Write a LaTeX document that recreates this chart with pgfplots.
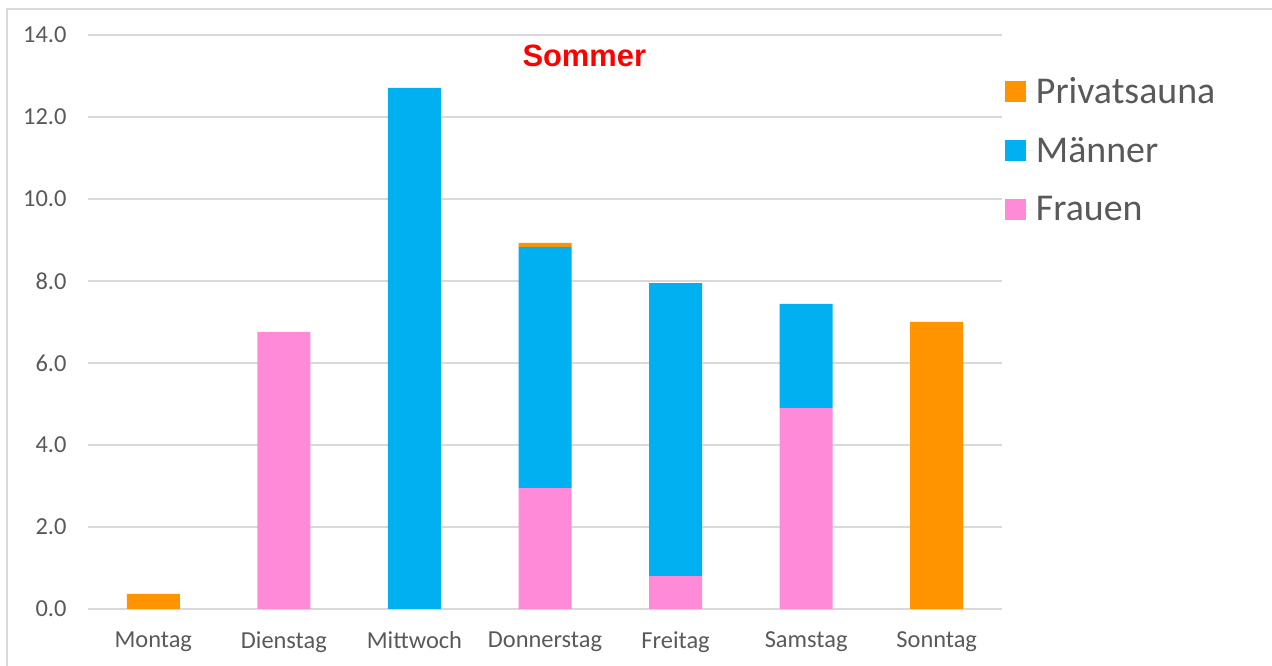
\documentclass[border=0pt]{standalone}
\usepackage{pgfplots}
\pgfplotsset{compat=1.18}
\usepackage{fontspec}
\setmainfont{Carlito}
\newfontfamily\titlefont{Liberation Sans}
\definecolor{cOrange}{HTML}{FF9300}
\definecolor{cBlue}{HTML}{00B0F0}
\definecolor{cPink}{HTML}{FF8AD8}
\definecolor{cGrid}{HTML}{D9D9D9}
\definecolor{cText}{HTML}{595959}
\begin{document}
\begin{tikzpicture}[x=1bp,y=1bp]
\path[use as bounding box] (-88,-57) rectangle (1184,609);
\draw[cGrid, line width=1.2bp] (-81,-57) -- (-81,600) -- (1184,600);
\begin{axis}[
  at={(0,0)}, anchor=south west,
  scale only axis, width=914bp, height=574bp,
  ybar stacked, bar width=53bp,
  xmin=-0.5, xmax=6.5, ymin=0, ymax=14,
  xtick={0,...,6},
  xticklabels={Montag,Dienstag,Mittwoch,Donnerstag,Freitag,Samstag,Sonntag},
  ytick={0,2,...,14},
  yticklabel={\pgfmathprintnumber[fixed,fixed zerofill,precision=1]{\tick}},
  /pgf/number format/assume math mode=true,
  ymajorgrids, major grid style={cGrid, line width=1.2bp},
  axis line style={draw=none},
  major tick length=0pt,
  tick label style={font=\fontsize{24.5}{26}\selectfont, text=cText},
  xticklabel style={yshift=-19bp},
  yticklabel style={xshift=-18bp},
  legend style={at={(1.003,0.930)}, anchor=north west, draw=none, fill=none,
    font=\fontsize{38}{40}\selectfont, text=cText, row sep=28.5bp,
    inner sep=0pt,
    /tikz/every even column/.append style={column sep=0bp}},
  legend cell align=left,
  reverse legend,
  legend image code/.code={\fill[#1] (0bp,-10.5bp) rectangle (21bp,10.5bp);
    \path (0bp,0bp) -- (29bp,0bp);},
  clip=false,
]
\addplot[fill=cPink, draw=none] coordinates {(0,0) (1,6.76) (2,0) (3,2.95) (4,0.80) (5,4.90) (6,0)};
\addlegendentry{Frauen}
\addplot[fill=cBlue, draw=none] coordinates {(0,0) (1,0) (2,12.71) (3,5.88) (4,7.15) (5,2.54) (6,0)};
\addlegendentry{Männer}
\addplot[fill=cOrange, draw=none] coordinates {(0,0.37) (1,0) (2,0) (3,0.10) (4,0) (5,0) (6,7.0)};
\addlegendentry{Privatsauna}
\node[font=\titlefont\bfseries\fontsize{31}{33}\selectfont, text=red] at (rel axis cs:0.543,0.963) {Sommer};
\end{axis}
\end{tikzpicture}
\end{document}
